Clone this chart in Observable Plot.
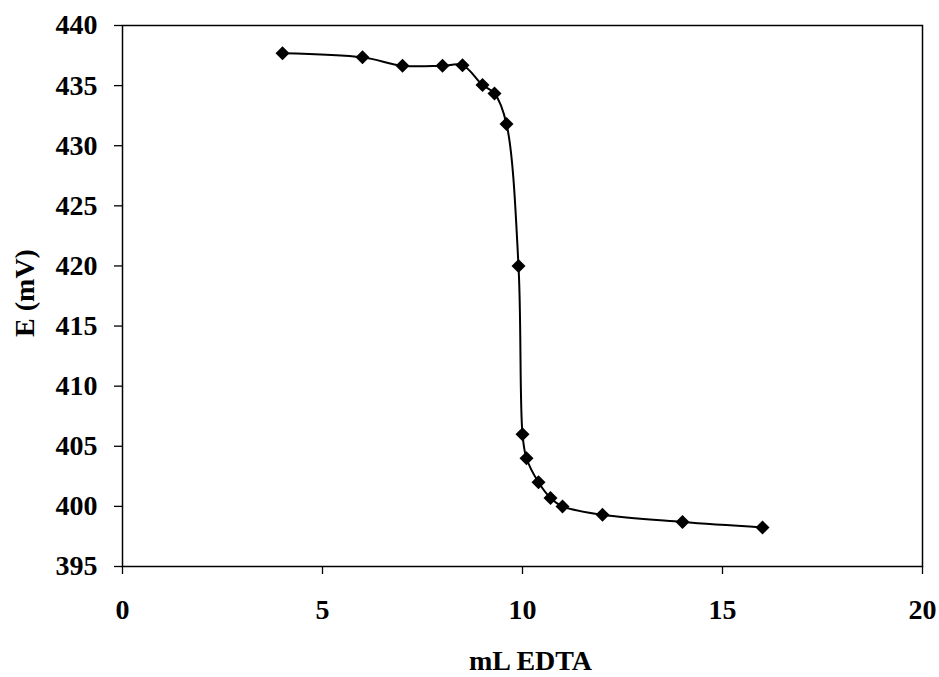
<!DOCTYPE html>
<html>
<head>
<meta charset="utf-8">
<script src="https://cdn.jsdelivr.net/npm/d3@7"></script>
<script src="https://cdn.jsdelivr.net/npm/@observablehq/plot@0.6"></script>
<style>
  html, body { margin: 0; padding: 0; background: #fff; }
</style>
</head>
<body>
<div id="chart"></div>
<script>
const volumeML = [4, 6, 7, 8, 8.5, 9, 9.3, 9.6, 9.9, 10, 10.1, 10.4, 10.7, 11, 12, 14, 16];
const potentialMV = [437.7, 437.35, 436.65, 436.65, 436.7, 435.05, 434.35, 431.8, 420, 406, 404, 402, 400.7, 400, 399.3, 398.7, 398.25];
const xTicks = [0, 5, 10, 15, 20];
const yTicks = [395, 400, 405, 410, 415, 420, 425, 430, 435, 440];
const xLabel = "mL EDTA";
const yLabel = "E (mV)";

const data = volumeML.map((v, i) => ({ x: v, y: potentialMV[i] }));

const font = "'Liberation Serif', 'Times New Roman', Times, serif";

const chart = Plot.plot({
  width: 939,
  height: 677,
  marginLeft: 122,
  marginRight: 17,
  marginTop: 25,
  marginBottom: 111,
  style: { fontFamily: font, fontSize: "28px", fontWeight: "bold", background: "#fff", color: "#000" },
  x: { domain: [0, 20] },
  y: { domain: [395, 440] },
  marks: [
    Plot.frame({ stroke: "#000", strokeWidth: 1.5 }),
    Plot.axisX({ ticks: xTicks, tickSize: 8, tickPadding: 25, tickFormat: d => String(d), label: null, stroke: "#000", strokeWidth: 1.3 }),
    Plot.axisY({ ticks: yTicks, tickSize: 8, tickPadding: 17, tickFormat: d => String(d), label: null, stroke: "#000", strokeWidth: 1.3 }),
    Plot.line(data, { x: "x", y: "y", stroke: "#000", strokeWidth: 2, curve: "catmull-rom" }),
    Plot.dot(data, { x: "x", y: "y", symbol: "diamond2", r: 6.3, fill: "#000", stroke: "none" }),
    Plot.text([xLabel], { frameAnchor: "bottom", dx: 8, dy: 95, lineAnchor: "middle", textAnchor: "middle", fontSize: 28, fontWeight: "bold", fill: "#000" }),
    Plot.text([yLabel], { frameAnchor: "left", dx: -97, dy: -3, rotate: -90, lineAnchor: "middle", textAnchor: "middle", fontSize: 28, fontWeight: "bold", fill: "#000" })
  ]
});

document.getElementById("chart").appendChild(chart);
</script>
</body>
</html>
